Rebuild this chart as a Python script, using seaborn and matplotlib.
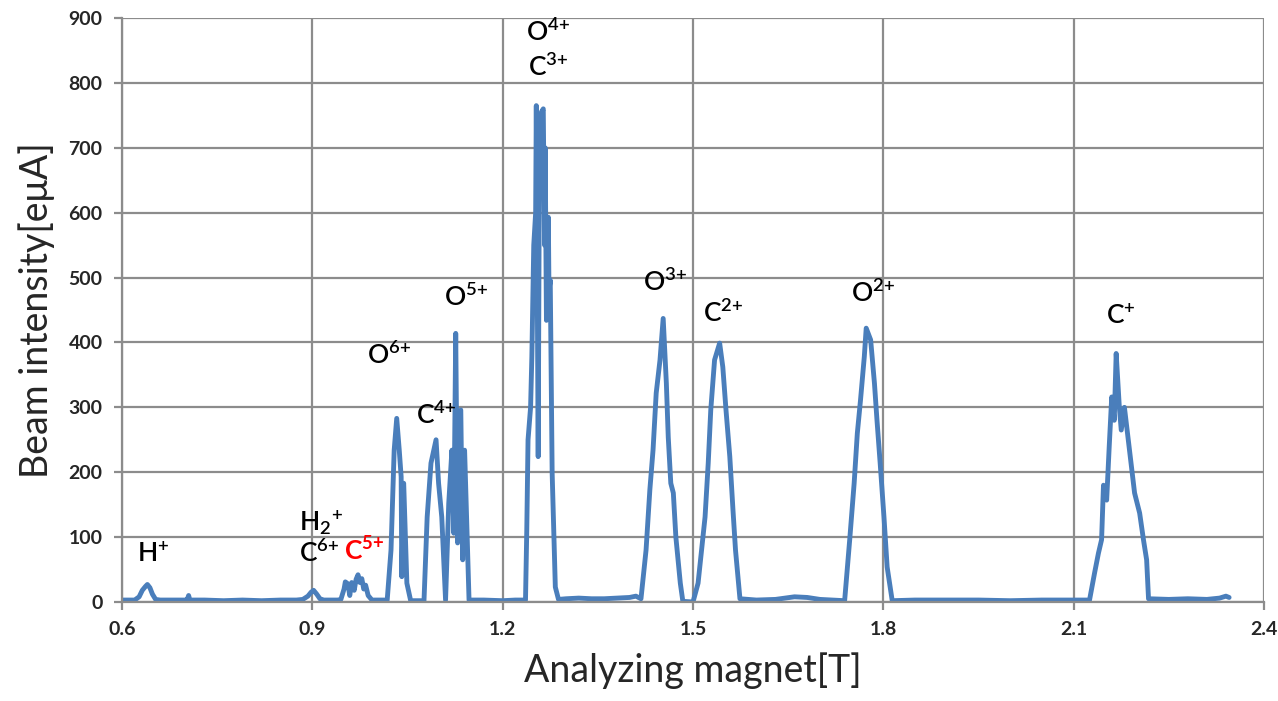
import numpy as np
import pandas as pd
import matplotlib
matplotlib.use("Agg")
import matplotlib.pyplot as plt
import seaborn as sns

# Beam spectrum
magnet_T = [
    0.600, 0.610, 0.620, 0.627, 0.632, 0.637, 0.640, 0.644, 0.648, 0.653,
    0.660, 0.680, 0.700, 0.703, 0.705, 0.707, 0.730, 0.760, 0.790, 0.820,
    0.850, 0.875, 0.885, 0.893, 0.898, 0.902, 0.907, 0.912, 0.918, 0.930,
    0.940, 0.945, 0.950, 0.952, 0.956, 0.959, 0.962, 0.966, 0.969, 0.972,
    0.975, 0.978, 0.981, 0.984, 0.988, 0.994, 1.005, 1.018, 1.024, 1.029,
    1.033, 1.037, 1.040, 1.041, 1.044, 1.049, 1.055, 1.065, 1.076, 1.081,
    1.087, 1.095, 1.099, 1.104, 1.110, 1.115, 1.120, 1.123, 1.126, 1.129,
    1.134, 1.137, 1.140, 1.147, 1.170, 1.200, 1.220, 1.236, 1.238, 1.240,
    1.244, 1.246, 1.249, 1.252, 1.253, 1.256, 1.258, 1.261, 1.264, 1.266,
    1.267, 1.269, 1.272, 1.273, 1.275, 1.277, 1.278, 1.283, 1.288, 1.300,
    1.320, 1.340, 1.360, 1.380, 1.400, 1.410, 1.418, 1.426, 1.432, 1.437,
    1.442, 1.448, 1.453, 1.458, 1.461, 1.465, 1.469, 1.473, 1.480, 1.484,
    1.500, 1.508, 1.519, 1.524, 1.528, 1.534, 1.542, 1.547, 1.552, 1.558,
    1.563, 1.567, 1.574, 1.600, 1.630, 1.660, 1.680, 1.700, 1.720, 1.739,
    1.747, 1.754, 1.759, 1.764, 1.770, 1.773, 1.780, 1.786, 1.790, 1.795,
    1.801, 1.806, 1.814, 1.850, 1.900, 1.950, 2.000, 2.050, 2.100, 2.125,
    2.133, 2.139, 2.144, 2.147, 2.152, 2.156, 2.160, 2.164, 2.167, 2.172,
    2.175, 2.180, 2.186, 2.191, 2.196, 2.204, 2.210, 2.215, 2.218, 2.250,
    2.280, 2.310, 2.330, 2.340, 2.345,
]
intensity_euA = [
    3, 3, 3, 8, 18, 24, 27, 22, 12, 4,
    3, 3, 3, 4, 10, 3, 3, 2, 3, 2,
    3, 3, 4, 9, 15, 18, 12, 5, 3, 3,
    3, 4, 20, 31, 28, 10, 30, 18, 35, 42,
    30, 36, 20, 26, 10, 3, 3, 3, 80, 234,
    283, 234, 193, 39, 183, 29, 2, 2, 2, 131,
    214, 250, 183, 131, 3, 152, 234, 106, 414, 91,
    296, 65, 234, 3, 3, 2, 3, 3, 111, 250,
    300, 378, 550, 600, 765, 224, 700, 755, 760, 550,
    700, 434, 593, 480, 496, 300, 199, 23, 4, 5,
    6, 5, 5, 6, 7, 9, 5, 80, 173, 234,
    322, 373, 437, 337, 254, 183, 168, 100, 29, 1,
    0, 29, 131, 214, 296, 373, 399, 362, 296, 224,
    142, 80, 5, 3, 4, 8, 7, 4, 3, 2,
    96, 183, 260, 311, 378, 422, 404, 337, 280, 214,
    131, 54, 2, 3, 3, 3, 2, 3, 3, 3,
    45, 75, 96, 180, 157, 239, 316, 280, 383, 300,
    265, 300, 250, 208, 168, 137, 96, 65, 5, 4,
    5, 4, 6, 9, 7,
]

# Ion labels: text, x, y, colour
ion_labels = ["H$^{{+}}$", "H$_{2}$$^{{+}}$", "C$^{6{+}}$", "C$^{5{+}}$", "O$^{6{+}}$",
              "C$^{4{+}}$", "O$^{5{+}}$", "O$^{4{+}}$", "C$^{3{+}}$", "O$^{3{+}}$",
              "C$^{2{+}}$", "O$^{2{+}}$", "C$^{{+}}$"]
label_x = [0.649, 0.914, 0.911, 0.982, 1.021, 1.095, 1.142, 1.272, 1.272, 1.456, 1.547, 1.783, 2.175]
label_y = [75, 122, 75, 80, 380, 288, 470, 878, 824, 492, 445, 476, 442]
label_color = ["black", "black", "black", "red", "black", "black", "black",
               "black", "black", "black", "black", "black", "black"]

x_ticks = [0.6, 0.9, 1.2, 1.5, 1.8, 2.1, 2.4]
y_ticks = [0, 100, 200, 300, 400, 500, 600, 700, 800, 900]

df = pd.DataFrame({"magnet": magnet_T, "intensity": intensity_euA})

sns.set_theme(style="whitegrid")
plt.rcParams["font.family"] = ["Lato", "DejaVu Sans"]
plt.rcParams["mathtext.default"] = "regular"

fig = plt.figure(figsize=(12.78, 7.01), dpi=100)
ax = fig.add_axes([122 / 1278, 99 / 701, 1142 / 1278, 584 / 701])

sns.lineplot(data=df, x="magnet", y="intensity", ax=ax, color="#4a7ebb",
             linewidth=3.5, estimator=None, sort=False)

ax.set_xlim(0.6, 2.4)
ax.set_ylim(0, 900)
ax.set_xticks(x_ticks)
ax.set_yticks(y_ticks)
ax.set_xticklabels([f"{t:g}" for t in x_ticks], fontsize=14, fontweight="bold")
ax.set_yticklabels([str(t) for t in y_ticks], fontsize=14, fontweight="bold")
ax.grid(True, color="#8c8c8c", linewidth=1.6)
ax.set_axisbelow(True)
for side in ["top", "right"]:
    ax.spines[side].set_visible(False)
for side in ["left", "bottom"]:
    ax.spines[side].set_color("#8c8c8c")
    ax.spines[side].set_linewidth(1.6)
ax.tick_params(axis="both", length=6, width=1.6, color="#8c8c8c", pad=8,
               bottom=True, left=True)

ax.set_xlabel("Analyzing magnet[T]", fontsize=27, labelpad=10)
ax.set_ylabel("Beam intensity[eμA]", fontsize=27, labelpad=10)

for txt, lx, ly, c in zip(ion_labels, label_x, label_y, label_color):
    ax.text(lx, ly, txt, ha="center", va="center", fontsize=19,
            color=c, fontweight="bold" if c == "red" else "semibold")

fig.savefig("out.png", dpi=100)
